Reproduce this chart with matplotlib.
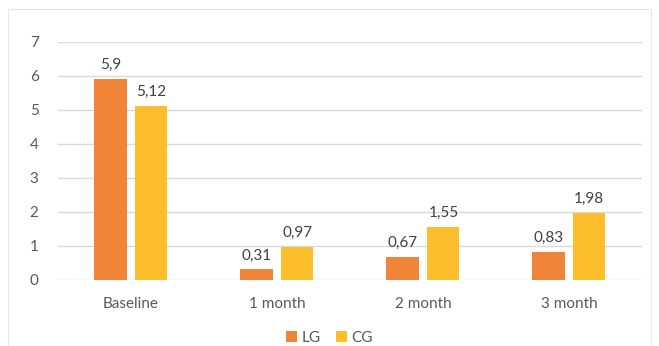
import matplotlib.pyplot as plt
import numpy as np
from matplotlib.patches import Rectangle

categories = ["Baseline", "1 month", "2 month", "3 month"]
lg = [5.9, 0.31, 0.67, 0.83]
cg = [5.12, 0.97, 1.55, 1.98]
lg_labels = ["5,9", "0,31", "0,67", "0,83"]
cg_labels = ["5,12", "0,97", "1,55", "1,98"]

plt.rcParams['font.family'] = ['Lato', 'DejaVu Sans']

fig = plt.figure(figsize=(6.59, 3.46), dpi=100)
ax = fig.add_axes([0.088, 0.191, 0.886, 0.688])

# faint chart frame
fig.patches.append(Rectangle((8 / 659, -0.01), 643 / 659, 1 - 9 / 346 + 0.01,
                             transform=fig.transFigure, fill=False,
                             edgecolor="#e6e6e6", linewidth=0.8))

x = np.arange(len(categories))
w = 0.22
b1 = ax.bar(x - 0.14, lg, w, color="#F08439", label="LG", zorder=3)
b2 = ax.bar(x + 0.14, cg, w, color="#FDBE2C", label="CG", zorder=3)

ax.bar_label(b1, labels=lg_labels, padding=5, fontsize=11, color="#404040")
ax.bar_label(b2, labels=cg_labels, padding=5, fontsize=11, color="#404040")

ax.set_xlim(-0.5, 3.5)
ax.set_ylim(0, 7)
ax.set_yticks(range(8))
ax.set_xticks(x)
ax.set_xticklabels(categories)
ax.tick_params(axis="both", length=0, labelsize=11, labelcolor="#595959")
ax.tick_params(axis="x", pad=12)
ax.tick_params(axis="y", pad=14)
ax.grid(axis="y", color="#d9d9d9", linewidth=1, zorder=0)
for s in ax.spines.values():
    s.set_visible(False)

fig.legend(handles=[b1, b2], labels=["LG", "CG"], loc="center",
           bbox_to_anchor=(0.5, 1 - 338 / 346), ncol=2, frameon=False,
           fontsize=11, labelcolor="#595959", handlelength=0.7,
           handleheight=0.7, handletextpad=0.3, columnspacing=1.0)

fig.savefig("out.png", dpi=100)
